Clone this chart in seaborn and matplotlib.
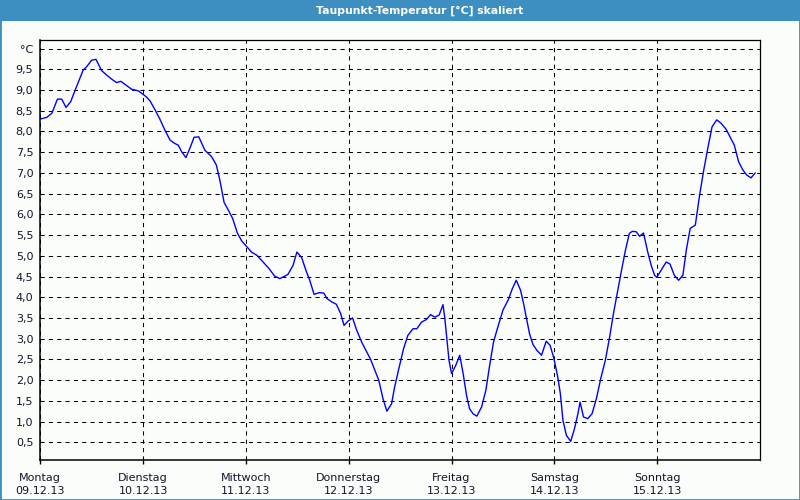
import matplotlib
matplotlib.use("Agg")
import matplotlib.pyplot as plt
from matplotlib.patches import Rectangle
import seaborn as sns
import pandas as pd

# ---- data -------------------------------------------------------------
title = "Taupunkt-Temperatur [°C] skaliert"
day_names = ["Montag", "Dienstag", "Mittwoch", "Donnerstag", "Freitag", "Samstag", "Sonntag"]
day_dates = ["09.12.13", "10.12.13", "11.12.13", "12.12.13", "13.12.13", "14.12.13", "15.12.13"]

# hours since Monday 00:00
hours = [0.0, 1.5, 2.7, 4.0, 5.0, 6.0, 7.1, 8.3, 10.0, 10.8, 12.0, 13.0, 14.3, 15.5,
         16.7, 17.8, 18.8, 20.0, 21.3, 22.9, 24.7, 25.6, 26.8, 27.9, 29.1, 30.3,
         31.4, 32.2, 33.0, 34.0, 34.9, 35.9, 37.0, 38.4, 40.0, 41.1, 41.9, 42.9,
         43.9, 44.9, 46.0, 47.0, 48.1, 49.3, 50.6, 52.0, 53.4, 54.7, 55.9, 57.1,
         57.8, 59.0, 59.9, 61.0, 62.0, 62.9, 63.9, 65.1, 66.2, 66.9, 68.0, 69.1,
         70.1, 70.9, 71.8, 72.9, 73.8, 75.0, 76.0, 77.1, 78.1, 79.0, 80.0, 80.9,
         82.0, 82.7, 83.7, 84.8, 85.8, 87.0, 87.9, 89.0, 90.1, 91.1, 92.1, 93.1,
         94.0, 94.4, 94.9, 95.4, 96.0, 97.0, 97.9, 98.7, 99.5, 100.2, 101.0, 101.9,
         103.0, 104.0, 104.9, 105.8, 106.8, 108.0, 109.2, 110.2, 111.1, 112.1,
         112.8, 113.6, 114.2, 115.0, 115.9, 117.0, 118.1, 119.0, 119.9, 120.8,
         121.4, 122.0, 122.8, 123.8, 124.7, 125.5, 126.0, 126.8, 127.8, 128.8,
         129.8, 130.9, 131.9, 132.9, 133.8, 134.8, 135.6, 136.6, 137.5, 138.2,
         139.1, 139.9, 140.8, 141.8, 142.6, 143.4, 143.9, 144.9, 146.1, 147.0,
         148.0, 149.0, 150.0, 150.8, 151.7, 152.9, 153.9, 154.8, 155.8, 156.8,
         157.9, 158.9, 160.1, 161.0, 162.0, 163.0, 164.0, 164.9, 165.9, 166.9]
dewpoint = [8.30, 8.34, 8.44, 8.78, 8.78, 8.58, 8.72, 9.04, 9.48, 9.56, 9.72, 9.74, 9.47, 9.36,
            9.26, 9.18, 9.21, 9.12, 9.02, 8.98, 8.84, 8.74, 8.52, 8.30, 8.03, 7.79,
            7.71, 7.67, 7.51, 7.37, 7.59, 7.86, 7.87, 7.55, 7.39, 7.19, 6.83, 6.29,
            6.10, 5.90, 5.55, 5.36, 5.23, 5.09, 5.01, 4.85, 4.69, 4.51, 4.45, 4.51,
            4.55, 4.77, 5.09, 4.96, 4.65, 4.41, 4.07, 4.11, 4.10, 3.97, 3.89, 3.83,
            3.61, 3.32, 3.42, 3.50, 3.22, 2.92, 2.72, 2.50, 2.24, 2.00, 1.55, 1.25,
            1.43, 1.83, 2.28, 2.76, 3.08, 3.24, 3.24, 3.40, 3.46, 3.58, 3.52, 3.57,
            3.82, 3.52, 3.00, 2.48, 2.16, 2.36, 2.60, 2.16, 1.63, 1.31, 1.19, 1.13,
            1.35, 1.75, 2.36, 2.92, 3.28, 3.69, 3.93, 4.21, 4.41, 4.17,
            3.85, 3.44, 3.12, 2.86, 2.72, 2.60, 2.94, 2.84, 2.52, 2.07,
            1.67, 1.03, 0.67, 0.52, 0.83, 1.19, 1.47, 1.11, 1.07, 1.19,
            1.55, 2.07, 2.48, 3.04, 3.61, 4.17, 4.61, 5.14, 5.54, 5.59,
            5.58, 5.47, 5.55, 5.09, 4.77, 4.53, 4.48, 4.65, 4.85, 4.80,
            4.53, 4.41, 4.53, 5.14, 5.66, 5.74, 6.46, 7.03, 7.59, 8.11,
            8.28, 8.20, 8.05, 7.87, 7.67, 7.27, 7.07, 6.95, 6.88, 7.00]

y_ticks = [0.5, 1.0, 1.5, 2.0, 2.5, 3.0, 3.5, 4.0, 4.5, 5.0, 5.5, 6.0, 6.5, 7.0,
           7.5, 8.0, 8.5, 9.0, 9.5, 10.0]
y_labels = ["0,5", "1,0", "1,5", "2,0", "2,5", "3,0", "3,5", "4,0", "4,5", "5,0",
            "5,5", "6,0", "6,5", "7,0", "7,5", "8,0", "8,5", "9,0", "9,5", "°C"]

df = pd.DataFrame({"day": [h / 24.0 for h in hours], "value": dewpoint})

# ---- style ------------------------------------------------------------
sns.set_style("white")
plt.rcParams["font.family"] = ["DejaVu Sans"]

W, H = 800, 500
bg = "#fbfdfb"
bar_blue = "#3d8fc2"
txt = "#14142a"

fig = plt.figure(figsize=(8, 5), dpi=100, facecolor=bg)
ax = fig.add_axes([40.3 / W, 1 - 460.3 / H, (760 - 40.3) / W, (460.3 - 40.3) / H])
ax.set_facecolor(bg)

sns.lineplot(data=df, x="day", y="value", ax=ax, color="#0000ff", linewidth=1.0,
             estimator=None, sort=False)

ax.set_xlim(0, 7)
ax.set_ylim(0.065, 10.2)
ax.set_xlabel("")
ax.set_ylabel("")

ax.set_yticks(y_ticks)
ax.set_yticklabels(y_labels, fontsize=8, color=txt)
ax.set_xticks(range(7))
ax.set_xticklabels([f"{n}\n{d}" for n, d in zip(day_names, day_dates)],
                   fontsize=8, color=txt, linespacing=1.45)

ax.tick_params(axis="y", length=0, pad=5)
ax.tick_params(axis="x", length=3, width=1, color="black", pad=6, direction="out")
ax.xaxis.set_ticks_position("bottom")

ax.grid(True, color="black", linestyle=(0, (4, 4)), linewidth=0.75)
ax.set_axisbelow(True)

for side, sp in ax.spines.items():
    sp.set_visible(True)
    sp.set_color("black")
    sp.set_linewidth(1.1 if side in ("left", "bottom") else 0.9)

# title bar and frame
fig.add_artist(Rectangle((0, 1 - 20.5 / H), 1, 20.5 / H, transform=fig.transFigure,
                         facecolor=bar_blue, edgecolor="none", zorder=0))
fig.add_artist(Rectangle((0, 0), 1, 1, transform=fig.transFigure, fill=False,
                         edgecolor=bar_blue, linewidth=2.0, zorder=5))
fig.text(420 / W, 1 - 10.5 / H, title, ha="center", va="center", color="white",
         fontweight="bold", fontsize=7.8)

fig.savefig("out.png", dpi=100, facecolor=bg)
